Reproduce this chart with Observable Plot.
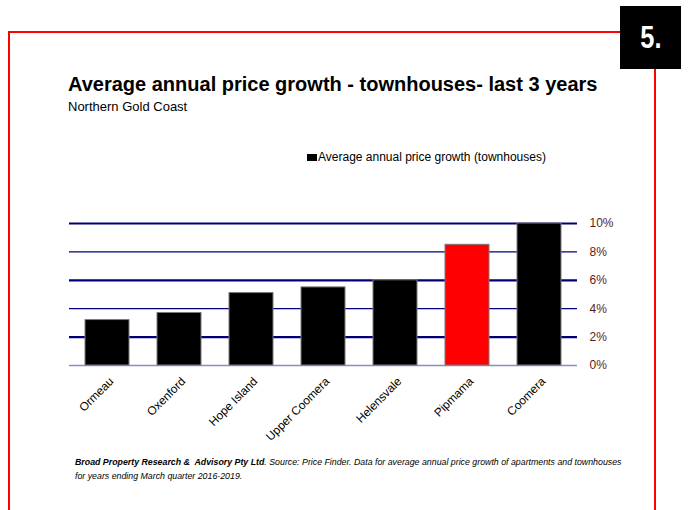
<!DOCTYPE html>
<html>
<head>
<meta charset="utf-8">
<script src="https://cdn.jsdelivr.net/npm/d3@7"></script>
<script src="https://cdn.jsdelivr.net/npm/@observablehq/plot@0.6"></script>
<style>
  html, body { margin: 0; padding: 0; background: #fff; }
  body { width: 691px; height: 510px; position: relative; overflow: hidden; font-family: "Liberation Sans", Arial, sans-serif; }
  .abs { position: absolute; }
  #frame { left: 8px; top: 31px; width: 648px; height: 490px; border: 2px solid #ff0000; box-sizing: border-box; }
  #badge { left: 620px; top: 6px; width: 61px; height: 63px; background: #000; color: #fff; font-weight: bold; font-size: 31px; display: flex; align-items: center; justify-content: center; }
  #badge span { display: inline-block; transform: scaleX(0.82); }
  #title { left: 68px; top: 73px; font-size: 20px; font-weight: bold; color: #000; white-space: nowrap; }
  #subtitle { left: 68px; top: 99px; font-size: 13px; color: #000; white-space: nowrap; }
  #legend { left: 307px; top: 150px; font-size: 12px; color: #000; display: flex; align-items: center; white-space: nowrap; }
  #legend span.sw { display: inline-block; width: 10px; height: 7px; background: #000; margin-right: 1px; }
  #chart { left: 0; top: 0; }
  #note { left: 75px; top: 455px; font-size: 8.8px; font-style: italic; color: #000; line-height: 14px; white-space: nowrap; }
</style>
</head>
<body>
<div id="frame" class="abs"></div>
<div id="chart" class="abs"></div>
<div id="badge" class="abs"><span>5.</span></div>
<div id="title" class="abs">Average annual price growth - townhouses- last 3 years</div>
<div id="subtitle" class="abs">Northern Gold Coast</div>
<div id="legend" class="abs"><span class="sw"></span>Average annual price growth (townhouses)</div>
<div id="note" class="abs"><b>Broad Property Research &amp;&nbsp; Advisory Pty Ltd</b>. Source: Price Finder. Data for average annual price growth of apartments and townhouses<br>for years ending March quarter 2016-2019.</div>
<script>
const suburbs = ["Ormeau", "Oxenford", "Hope Island", "Upper Coomera", "Helensvale", "Pipmama", "Coomera"];
const growth = [3.2, 3.7, 5.1, 5.5, 6.0, 8.5, 10.0];
const highlight = "Pipmama";
const yTicks = [0, 2, 4, 6, 8, 10];

const data = suburbs.map((s, i) => ({suburb: s, value: growth[i]}));

const chart = Plot.plot({
  width: 691,
  height: 510,
  marginLeft: 69,
  marginRight: 114,
  marginTop: 223,
  marginBottom: 145,
  style: {fontFamily: "Liberation Sans, Arial, sans-serif", background: "transparent"},
  x: {domain: suburbs, paddingInner: 0.386, paddingOuter: 0.2, label: null},
  y: {domain: [0, 10], label: null},
  marks: [
    Plot.ruleY(yTicks, {
      stroke: d => d === 0 ? "#8c8cc4" : "#00007a",
      strokeWidth: d => d === 0 ? 1.5 : (d % 4 === 2 ? 2.2 : 1.3)
    }),
    Plot.barY(data, {
      x: "suburb", y: "value",
      fill: d => d.suburb === highlight ? "#ff0000" : "#000000",
      stroke: "#7a7a7a", strokeWidth: 1
    }),
    Plot.axisY(yTicks, {
      anchor: "right", tickSize: 0, tickPadding: 12,
      tickFormat: d => d + "%", fontSize: 12, fill: "#5e1a1a"
    }),
    Plot.axisX({
      tickSize: 0, tickRotate: -45, fontSize: 11.8, fill: "#000",
      textAnchor: "end", tickPadding: 14, dx: 4
    })
  ]
});
document.getElementById("chart").appendChild(chart);
</script>
</body>
</html>
